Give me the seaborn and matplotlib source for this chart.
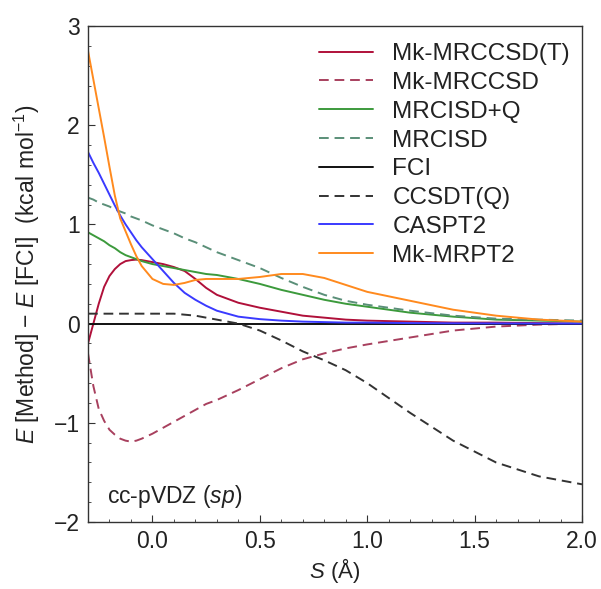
import numpy as np
import pandas as pd
import matplotlib
matplotlib.use("Agg")
import matplotlib.pyplot as plt
import seaborn as sns
from matplotlib.ticker import MultipleLocator

# ---------------- data ----------------
S = [-0.3, -0.275, -0.25, -0.225, -0.2, -0.175, -0.15, -0.125, -0.1, -0.075,
     -0.05, 0.0, 0.05, 0.1, 0.15, 0.2, 0.25, 0.3, 0.4, 0.5,
     0.6, 0.7, 0.8, 0.9, 1.0, 1.2, 1.4, 1.6, 1.8, 2.0]

mk_mrccsd_t = [-0.20, 0.00, 0.20, 0.37, 0.48, 0.55, 0.60, 0.63, 0.64, 0.645,
               0.64, 0.62, 0.60, 0.57, 0.53, 0.45, 0.36, 0.29, 0.21, 0.16,
               0.12, 0.08, 0.06, 0.04, 0.03, 0.02, 0.01, 0.01, 0.005, 0.0]

mk_mrccsd = [-0.30, -0.63, -0.86, -0.98, -1.07, -1.12, -1.16, -1.18, -1.19, -1.18,
             -1.16, -1.11, -1.05, -0.99, -0.93, -0.87, -0.81, -0.77, -0.67, -0.56,
             -0.45, -0.36, -0.30, -0.25, -0.21, -0.14, -0.07, -0.03, -0.01, 0.0]

mrcisd_q = [0.92, 0.89, 0.86, 0.83, 0.79, 0.76, 0.72, 0.69, 0.67, 0.65,
            0.63, 0.60, 0.58, 0.56, 0.54, 0.52, 0.50, 0.49, 0.45, 0.40,
            0.34, 0.29, 0.24, 0.20, 0.17, 0.11, 0.07, 0.04, 0.03, 0.02]

mrcisd = [1.27, 1.25, 1.22, 1.20, 1.18, 1.15, 1.13, 1.11, 1.08, 1.06,
          1.04, 0.99, 0.95, 0.91, 0.86, 0.82, 0.77, 0.72, 0.64, 0.56,
          0.46, 0.37, 0.29, 0.23, 0.19, 0.13, 0.08, 0.05, 0.04, 0.03]

fci = [0.0] * len(S)

ccsdt_q = [0.10, 0.10, 0.10, 0.10, 0.10, 0.10, 0.10, 0.10, 0.10, 0.10,
           0.10, 0.10, 0.10, 0.10, 0.09, 0.08, 0.06, 0.04, 0.00, -0.07,
           -0.17, -0.28, -0.37, -0.47, -0.60, -0.90, -1.18, -1.40, -1.54, -1.62]

caspt2 = [1.73, 1.62, 1.52, 1.41, 1.30, 1.19, 1.09, 1.00, 0.92, 0.84,
          0.77, 0.65, 0.53, 0.41, 0.31, 0.24, 0.18, 0.13, 0.07, 0.045,
          0.03, 0.02, 0.015, 0.01, 0.01, 0.005, 0.003, 0.002, 0.001, 0.0]

mk_mrpt2 = [2.75, 2.46, 2.17, 1.88, 1.58, 1.29, 1.06, 0.93, 0.80, 0.68,
            0.58, 0.45, 0.40, 0.39, 0.41, 0.44, 0.45, 0.45, 0.45, 0.47,
            0.50, 0.50, 0.46, 0.39, 0.32, 0.23, 0.14, 0.08, 0.04, 0.02]

methods = ["Mk-MRCCSD(T)", "Mk-MRCCSD", "MRCISD+Q", "MRCISD",
           "FCI", "CCSDT(Q)", "CASPT2", "Mk-MRPT2"]
series = [mk_mrccsd_t, mk_mrccsd, mrcisd_q, mrcisd, fci, ccsdt_q, caspt2, mk_mrpt2]
colors = ["#b0103a", "#a8405e", "#3c9a3c", "#5a8f78",
          "#111111", "#333333", "#3a3aff", "#ff8a1e"]
dashed = [False, True, False, True, False, True, False, False]

df = pd.DataFrame({
    "S": np.tile(S, len(methods)),
    "E": np.concatenate(series),
    "method": np.repeat(methods, len(S)),
})

# ---------------- style ----------------
sns.set_theme(style="ticks")
plt.rcParams["font.family"] = ["Liberation Sans", "DejaVu Sans"]
plt.rcParams["mathtext.fontset"] = "custom"
plt.rcParams["mathtext.rm"] = "Liberation Sans"
plt.rcParams["mathtext.it"] = "Liberation Sans:italic"
plt.rcParams["axes.edgecolor"] = "#333333"

fig = plt.figure(figsize=(6.01, 5.89), dpi=100)
ax = fig.add_axes([88 / 601, 1 - 522 / 589, (582 - 88) / 601, (522 - 26) / 589])

palette = dict(zip(methods, colors))
dash_map = {m: ((5, 3) if d else "") for m, d in zip(methods, dashed)}
sns.lineplot(data=df, x="S", y="E", hue="method", style="method",
             hue_order=methods, style_order=methods, palette=palette,
             dashes=dash_map, linewidth=1.4, sort=False, ax=ax, legend=True)

ax.set_xlim(-0.3, 2.0)
ax.set_ylim(-2, 3)
ax.xaxis.set_major_locator(MultipleLocator(0.5))
ax.xaxis.set_minor_locator(MultipleLocator(0.1))
ax.yaxis.set_major_locator(MultipleLocator(1))
ax.yaxis.set_minor_locator(MultipleLocator(0.2))
ax.tick_params(axis="both", which="major", direction="in", length=5, width=0.8,
               labelsize=16.5, colors="#333333", labelcolor="#222222", pad=6)
ax.tick_params(axis="both", which="minor", direction="in", length=2.5, width=0.6,
               colors="#333333")
ax.tick_params(top=False, right=False, which="both")
for sp in ax.spines.values():
    sp.set_visible(True)
    sp.set_linewidth(1.0)

ax.set_xlabel(r"$S$ (Å)", fontsize=16, color="#222222", labelpad=2)
ax.set_ylabel(r"$E$ [Method] − $E$ [FCI]  (kcal mol$^{-1}$)", fontsize=16.5,
              color="#222222", labelpad=8)

ax.text(0.038, 0.052, r"cc-pVDZ ($sp$)", transform=ax.transAxes,
        fontsize=16.5, color="#222222", va="center", ha="left")

leg = ax.legend(loc="upper right", bbox_to_anchor=(1.005, 0.995), frameon=False,
                fontsize=17.5, handlelength=2.2, handletextpad=0.8,
                labelspacing=0.28, borderaxespad=0.2)
for t in leg.get_texts():
    t.set_color("#222222")

fig.savefig("out.png", dpi=100)
